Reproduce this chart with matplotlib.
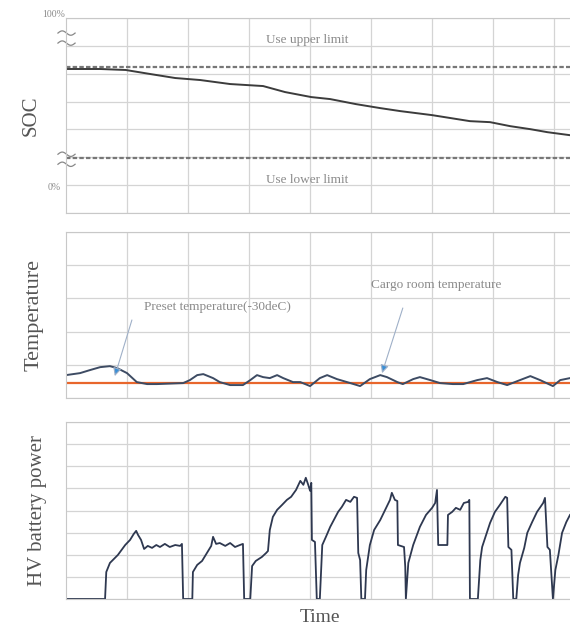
import numpy as np
import matplotlib.pyplot as plt
import matplotlib.transforms as mtransforms

plt.rcParams["font.family"] = ["Liberation Serif", "DejaVu Serif"]

# ---- data (time in hours, one grid column = 1 h) ----
soc_time = [0, 0.56, 0.98, 1.38, 1.79, 2.20, 2.69, 3.23, 3.59, 4.02, 4.33,
            4.75, 5.15, 5.48, 6.00, 6.62, 6.95, 7.28, 7.61, 7.89, 8.26]
soc_pct = [69.5, 69.5, 68.9, 66.5, 64.1, 62.9, 60.5, 59.3, 55.7, 52.7, 51.5,
           48.5, 46.1, 44.3, 41.9, 38.3, 37.7, 35.3, 33.5, 31.7, 29.9]
soc_upper = 70.7
soc_lower = 16.2

temp_time = [0, 0.23, 0.39, 0.56, 0.72, 0.84, 1.00, 1.16, 1.33, 1.49, 1.92,
             2.03, 2.15, 2.25, 2.41, 2.52, 2.69, 2.90, 3.02, 3.13, 3.23, 3.34,
             3.46, 3.56, 3.72, 3.84, 4.00, 4.16, 4.28, 4.44, 4.66, 4.82, 4.98,
             5.15, 5.26, 5.43, 5.52, 5.69, 5.80, 5.97, 6.13, 6.34, 6.51, 6.74,
             6.90, 7.07, 7.23, 7.44, 7.61, 7.77, 7.98, 8.10, 8.26]
temp_cargo = [0.69, 0.75, 0.84, 0.93, 0.96, 0.90, 0.75, 0.48, 0.42, 0.42, 0.45,
              0.54, 0.69, 0.72, 0.60, 0.48, 0.39, 0.39, 0.54, 0.69, 0.63, 0.60,
              0.69, 0.60, 0.48, 0.48, 0.36, 0.60, 0.69, 0.57, 0.45, 0.36, 0.57,
              0.69, 0.63, 0.48, 0.42, 0.57, 0.63, 0.54, 0.45, 0.42, 0.42, 0.54,
              0.60, 0.48, 0.39, 0.54, 0.66, 0.54, 0.36, 0.54, 0.60]
temp_preset = 0.45

power_time = [0, 0.64, 0.66, 0.72, 0.85, 0.97, 1.05, 1.11, 1.15, 1.18, 1.23, 1.28, 1.34, 1.41, 1.48, 1.54, 1.62, 1.70, 1.79, 1.87, 1.90, 1.92,
              2.07, 2.08, 2.15, 2.23, 2.31, 2.38, 2.41, 2.46, 2.52, 2.61, 2.69, 2.77, 2.85, 2.90, 2.92,
              3.02, 3.05, 3.11, 3.21, 3.28, 3.31, 3.34, 3.39, 3.46, 3.54, 3.62, 3.69, 3.77, 3.84, 3.89, 3.93, 3.97, 4.00, 4.02, 4.03, 4.08, 4.11,
              4.16, 4.20, 4.26, 4.33, 4.39, 4.46, 4.52, 4.59, 4.66, 4.72, 4.77, 4.79, 4.82, 4.84,
              4.90, 4.92, 4.98, 5.05, 5.15, 5.23, 5.31, 5.34, 5.39, 5.43, 5.44, 5.54, 5.56, 5.57,
              5.61, 5.69, 5.80, 5.90, 6.00, 6.05, 6.08, 6.10, 6.25, 6.26, 6.33, 6.39, 6.46, 6.52, 6.59, 6.61, 6.62,
              6.75, 6.79, 6.82, 6.89, 6.95, 7.03, 7.11, 7.20, 7.23, 7.25, 7.30, 7.33,
              7.38, 7.41, 7.44, 7.51, 7.56, 7.64, 7.72, 7.82, 7.85, 7.89, 7.93, 7.98,
              8.02, 8.07, 8.13, 8.20, 8.26]
power_kw = [0, 0, 1.22, 1.63, 1.99, 2.44, 2.67, 2.94, 3.08, 2.90, 2.67, 2.26, 2.40, 2.31, 2.44, 2.35, 2.49, 2.35, 2.44, 2.40, 2.49, 0,
            0, 1.22, 1.54, 1.72, 2.08, 2.40, 2.81, 2.49, 2.53, 2.40, 2.53, 2.35, 2.44, 2.49, 0,
            0, 1.49, 1.72, 1.90, 2.08, 2.17, 3.12, 3.71, 4.03, 4.25, 4.48, 4.62, 4.93, 5.34, 5.16, 5.48, 5.16, 4.89, 5.25, 2.67, 2.58, 0,
            0, 2.44, 2.81, 3.26, 3.57, 3.94, 4.16, 4.48, 4.39, 4.62, 4.57, 2.08, 1.76, 0,
            0, 1.31, 2.44, 3.12, 3.57, 4.03, 4.48, 4.80, 4.48, 4.43, 2.44, 2.35, 1.45, 0,
            1.63, 2.44, 3.26, 3.80, 4.12, 4.34, 4.93, 2.44, 2.44, 3.80, 3.94, 4.12, 4.03, 4.34, 4.39, 4.48, 0,
            0, 1.76, 2.35, 2.94, 3.44, 3.94, 4.25, 4.62, 4.57, 2.35, 2.22, 0,
            0, 1.09, 1.63, 2.31, 2.99, 3.48, 3.94, 4.34, 4.57, 2.35, 2.22, 0,
            1.31, 1.99, 2.99, 3.48, 3.80]

t_max = 8.26
grid_c = "#d4d4d4"
text_c = "#8a8a8a"
label_c = "#555555"

fig = plt.figure(figsize=(5.70, 6.28), dpi=100)
ax1 = fig.add_axes([0.1158, 0.6608, 0.8842, 0.3105])
ax2 = fig.add_axes([0.1158, 0.3662, 0.8842, 0.2644])
ax3 = fig.add_axes([0.1158, 0.0462, 0.8842, 0.2818])


def style(ax, yticks):
    ax.set_xlim(0, t_max)
    ax.set_xticks(np.arange(1, 9))
    ax.set_yticks(yticks)
    ax.grid(True, color=grid_c, lw=0.9)
    ax.tick_params(length=0, labelbottom=False, labelleft=False)
    for s in ["left", "top", "bottom"]:
        ax.spines[s].set_color("#c8c8c8")
    ax.spines["right"].set_visible(False)
    ax.set_axisbelow(True)


# SOC panel
style(ax1, np.linspace(-100 / 6, 100, 8))
ax1.set_ylim(-100 / 6, 100)
ax1.axhline(soc_upper, color="#777777", lw=1.6, ls=(0, (2, 1)))
ax1.axhline(soc_lower, color="#777777", lw=1.6, ls=(0, (2, 1)))
ax1.plot(soc_time, soc_pct, color="#3c3c3c", lw=1.4)
ax1.text(3.95, 86.8, "Use upper limit", ha="center", va="center", fontsize=9.5, color=text_c)
ax1.text(3.95, 3.0, "Use lower limit", ha="center", va="center", fontsize=9.5, color=text_c)
ax1.text(-0.02, 102, "100%", ha="right", va="center", fontsize=7, color=text_c)
ax1.text(-0.08, -1.5, "0%", ha="right", va="center", fontsize=7, color=text_c)

# axis-break marks on the left spine
trans = mtransforms.blended_transform_factory(ax1.transAxes, ax1.transData)
s = np.linspace(0, 1, 30)
for yb in [91, 85, 18.5, 12.5]:
    ax1.plot(-0.016 + 0.034 * s, yb + 1.3 * np.sin(2 * np.pi * s), color="#888888",
             lw=0.9, transform=trans, clip_on=False)
ax1.set_ylabel("SOC", fontsize=15, color=label_c, labelpad=18)

# Temperature panel
style(ax2, np.arange(0, 6))
ax2.set_ylim(0, 5)
ax2.axhline(temp_preset, color="#e8662c", lw=1.6)
ax2.plot(temp_time, temp_cargo, color="#3d4b63", lw=1.4)
arrow_kw = dict(arrowstyle="-|>", lw=0.8, mutation_scale=12,
                shrinkA=0, shrinkB=0, fc="#3a8fd6", ec="#9fb0c8")
ax2.annotate("", xy=(0.80, 0.66), xytext=(1.08, 2.35), arrowprops=arrow_kw)
ax2.annotate("", xy=(5.18, 0.75), xytext=(5.52, 2.71), arrowprops=arrow_kw)
ax2.text(2.48, 2.74, "Preset temperature(-30deC)", ha="center", va="center",
         fontsize=9.5, color=text_c)
ax2.text(6.07, 3.40, "Cargo room temperature", ha="center", va="center",
         fontsize=9.5, color=text_c)
ax2.set_ylabel("Temperature", fontsize=16, color=label_c, labelpad=16)

# HV battery power panel
style(ax3, np.arange(0, 9))
ax3.set_ylim(0, 8)
ax3.plot(power_time, power_kw, color="#2e3850", lw=1.3)
ax3.set_ylabel("HV battery power", fontsize=15, color=label_c, labelpad=14)
ax3.set_xlabel("Time", fontsize=14, color=label_c)
ax3.xaxis.set_label_coords(0.504, -0.055)

fig.savefig("out.png", dpi=100, facecolor="white")
